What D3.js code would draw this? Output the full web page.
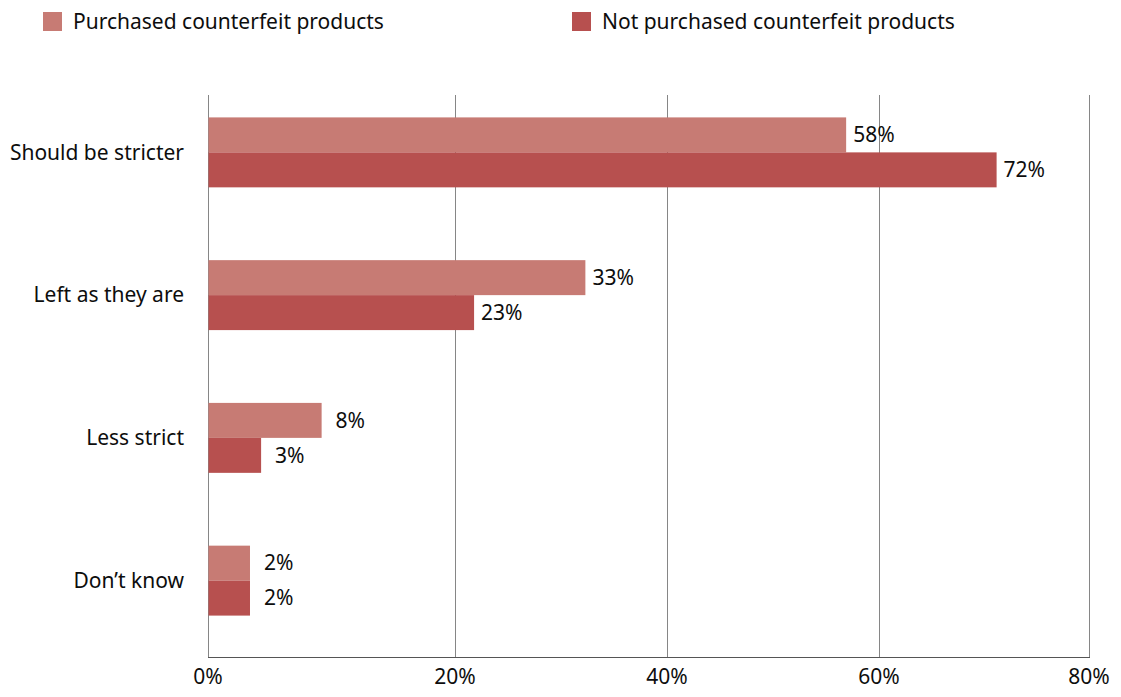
<!DOCTYPE html>
<html>
<head>
<meta charset="utf-8">
<script src="https://cdn.jsdelivr.net/npm/d3@7"></script>
<style>
  html, body { margin: 0; padding: 0; background: #fff; }
  svg text { font-family: "Noto Sans", "Open Sans", sans-serif; fill: #0d0d0d; }
</style>
</head>
<body>
<svg id="chart" width="1121" height="697"></svg>
<script>
// categories, top to bottom
const categories = ["Should be stricter", "Left as they are", "Less strict", "Don\u2019t know"];
const seriesNames = ["Purchased counterfeit products", "Not purchased counterfeit products"];
// bar lengths (percent)
const purchased    = [56.9, 32.3, 9.2, 3.4];
const notPurchased = [71.2, 21.8, 4.3, 3.4];
// printed data labels
const purchasedLabels    = ["58%", "33%", "8%", "2%"];
const notPurchasedLabels = ["72%", "23%", "3%", "2%"];
const ticks = [0, 20, 40, 60, 80];

const colors = ["#c77b74", "#b7504f"];
const fontSize = 21;

const svg = d3.select("#chart");

// gridlines in the source are not evenly spaced, so map tick by tick
const x = d3.scaleLinear().domain(ticks).range([208, 455, 667, 879, 1089]);
const y = d3.scaleBand().domain(categories).range([81, 652])
  .paddingInner(0.51).paddingOuter(0.255);
const ySub = d3.scaleBand().domain([0, 1]).range([0, y.bandwidth()]);

const plotTop = 95, plotBottom = 657.5;

// gridlines
svg.append("g")
  .selectAll("line")
  .data(ticks)
  .join("line")
  .attr("x1", d => Math.round(x(d)) + 0.5)
  .attr("x2", d => Math.round(x(d)) + 0.5)
  .attr("y1", plotTop)
  .attr("y2", plotBottom)
  .attr("stroke", "#868686")
  .attr("stroke-width", 1);

// bars
const rows = categories.map((c, i) => ({
  cat: c,
  vals: [
    { s: 0, v: purchased[i], label: purchasedLabels[i] },
    { s: 1, v: notPurchased[i], label: notPurchasedLabels[i] }
  ]
}));

const grp = svg.append("g")
  .selectAll("g")
  .data(rows)
  .join("g")
  .attr("transform", d => `translate(0,${y(d.cat)})`);

grp.selectAll("rect")
  .data(d => d.vals)
  .join("rect")
  .attr("x", x(0) + 0.5)
  .attr("y", d => ySub(d.s))
  .attr("width", d => x(d.v) - x(0) - 0.5)
  .attr("height", ySub.bandwidth())
  .attr("fill", d => colors[d.s]);

// short bars get their labels pushed a little further out, as in the source
grp.selectAll("text")
  .data(d => d.vals)
  .join("text")
  .attr("x", d => x(d.v) + (d.v < 15 ? 14 : 7))
  .attr("y", d => ySub(d.s) + ySub.bandwidth() / 2)
  .attr("dy", "0.35em")
  .attr("font-size", fontSize)
  .text(d => d.label);

// axis line
svg.append("line")
  .attr("x1", x(0)).attr("x2", x(80) + 1)
  .attr("y1", plotBottom).attr("y2", plotBottom)
  .attr("stroke", "#555").attr("stroke-width", 1);

// x tick labels
svg.append("g")
  .selectAll("text")
  .data(ticks)
  .join("text")
  .attr("x", d => x(d))
  .attr("y", 677)
  .attr("dy", "0.35em")
  .attr("text-anchor", "middle")
  .attr("font-size", fontSize)
  .text(d => d + "%");

// category labels
svg.append("g")
  .selectAll("text")
  .data(categories)
  .join("text")
  .attr("x", 184)
  .attr("y", d => y(d) + y.bandwidth() / 2)
  .attr("dy", "0.35em")
  .attr("text-anchor", "end")
  .attr("font-size", fontSize)
  .text(d => d);

// legend
const legendX = [43, 572];
const leg = svg.append("g")
  .selectAll("g")
  .data(seriesNames)
  .join("g")
  .attr("transform", (d, i) => `translate(${legendX[i]},12)`);
leg.append("rect")
  .attr("width", 19).attr("height", 19)
  .attr("fill", (d, i) => colors[i]);
leg.append("text")
  .attr("x", 30)
  .attr("y", 9.5)
  .attr("dy", "0.35em")
  .attr("font-size", fontSize)
  .text(d => d);
</script>
</body>
</html>
